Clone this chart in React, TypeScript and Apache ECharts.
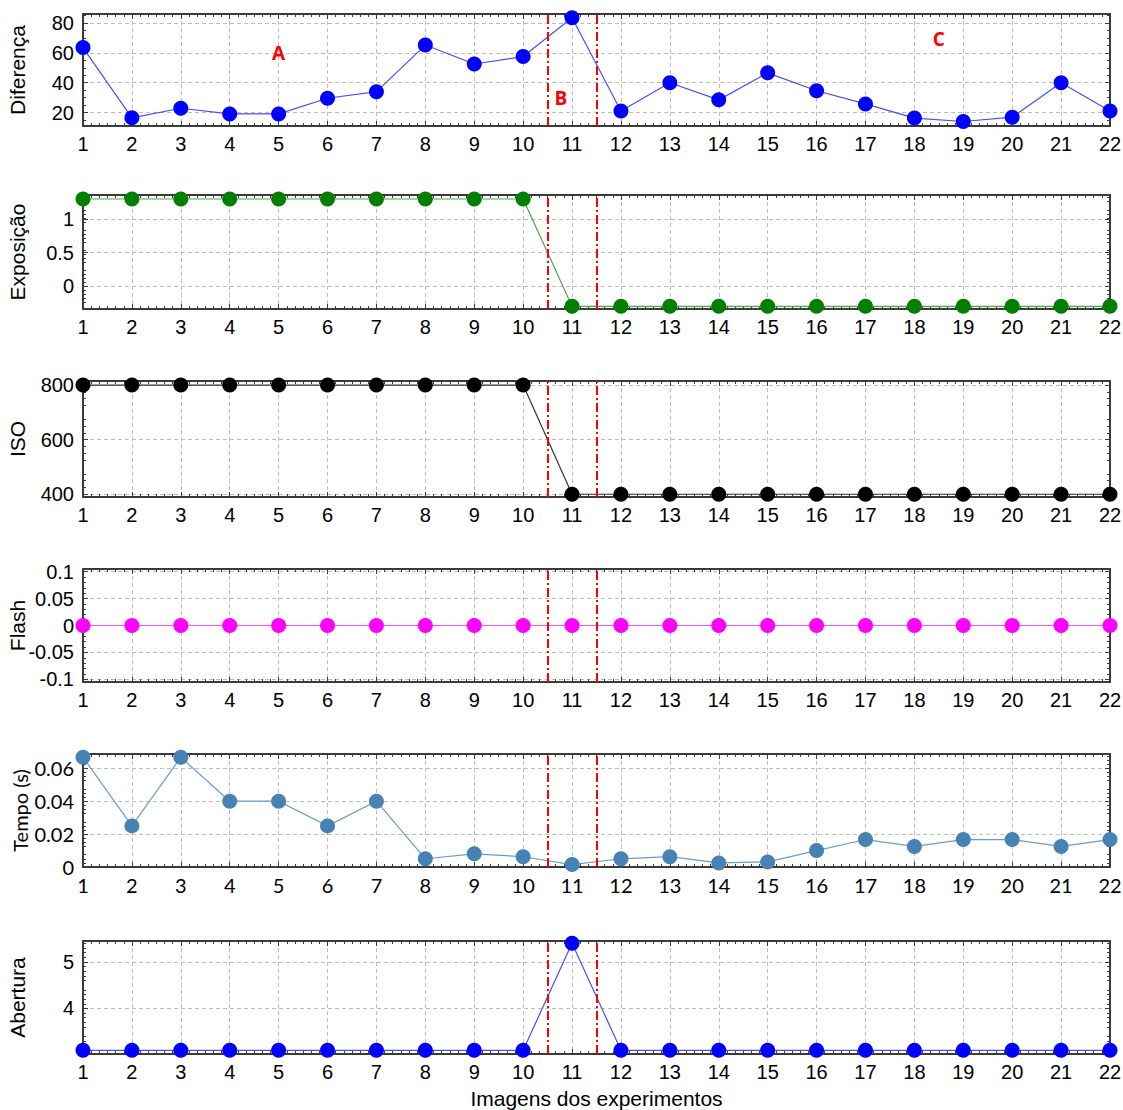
import React, { useEffect, useRef } from "react";
import * as echarts from "echarts";

// ---------- data ----------
const images = [1, 2, 3, 4, 5, 6, 7, 8, 9, 10, 11, 12, 13, 14, 15, 16, 17, 18, 19, 20, 21, 22];
const diferenca = [63.5, 16.5, 22.9, 19.1, 19.1, 29.6, 34, 65.2, 52.5, 57.5, 83.5, 21, 40, 28.5, 46.6, 34.6, 25.8, 16.3, 14, 16.9, 40, 21];
const exposicao = [1.3, 1.3, 1.3, 1.3, 1.3, 1.3, 1.3, 1.3, 1.3, 1.3, -0.3, -0.3, -0.3, -0.3, -0.3, -0.3, -0.3, -0.3, -0.3, -0.3, -0.3, -0.3];
const iso = [800, 800, 800, 800, 800, 800, 800, 800, 800, 800, 400, 400, 400, 400, 400, 400, 400, 400, 400, 400, 400, 400];
const flash = [0, 0, 0, 0, 0, 0, 0, 0, 0, 0, 0, 0, 0, 0, 0, 0, 0, 0, 0, 0, 0, 0];
const tempo = [0.0667, 0.025, 0.0667, 0.04, 0.04, 0.025, 0.04, 0.005, 0.008, 0.00625, 0.0015, 0.005, 0.00625, 0.0025, 0.0031, 0.01, 0.0167, 0.0125, 0.0167, 0.0167, 0.0125, 0.0167];
const abertura = [3.1, 3.1, 3.1, 3.1, 3.1, 3.1, 3.1, 3.1, 3.1, 3.1, 5.4, 3.1, 3.1, 3.1, 3.1, 3.1, 3.1, 3.1, 3.1, 3.1, 3.1, 3.1];

const boundaries = [10.5, 11.5];
const regionNames = ["A", "B", "C"];
const regionX = [5, 10.77, 18.5];
const regionY = [60, 30, 69];

const difTicks = [20, 40, 60, 80];
const expTicks = [0, 0.5, 1];
const isoTicks = [400, 600, 800];
const flashTicks = [-0.1, -0.05, 0, 0.05, 0.1];
const tempoTicks = [0, 0.02, 0.04, 0.06];
const aberturaTicks = [4, 5];

const yNames = ["Diferença", "Exposição", "ISO", "Flash", "Tempo (s)", "Abertura"];
const xTitle = "Imagens dos experimentos";

// ---------- layout / style ----------
const panels = [
  { values: diferenca, ticks: difTicks, min: 11, max: 86, top: 14, height: 112, color: "#0000ff", line: "#4b4bff", font: "Liberation Sans", minorY: 4 },
  { values: exposicao, ticks: expTicks, min: -0.34, max: 1.36, top: 195, height: 114, color: "#007f00", line: "#4aa84a", font: "Liberation Sans", minorY: 5 },
  { values: iso, ticks: isoTicks, min: 390, max: 815, top: 381, height: 116, color: "#000000", line: "#333333", font: "Liberation Sans", minorY: 4 },
  { values: flash, ticks: flashTicks, min: -0.105, max: 0.105, top: 569, height: 113, color: "#ff00ff", line: "#ff4dff", font: "Liberation Sans", minorY: 5 },
  { values: tempo, ticks: tempoTicks, min: 0, max: 0.0687, top: 754, height: 113, color: "#4682b4", line: "#6a9ccb", font: "Lato", minorY: 4 },
  { values: abertura, ticks: aberturaTicks, min: 3.02, max: 5.45, top: 941, height: 113, color: "#0000ff", line: "#4b4bff", font: "Liberation Sans", minorY: 5 },
];

const FRAME = "#3a3a3a";
const GRIDC = "#bdbdbd";

export default function App() {
  const ref = useRef<HTMLDivElement>(null);

  useEffect(() => {
    document.body.style.margin = "0";
    if (!ref.current) return;
    const chart = echarts.init(ref.current, undefined, { renderer: "svg" });

    const grids: any[] = [];
    const xAxes: any[] = [];
    const yAxes: any[] = [];
    const series: any[] = [];

    panels.forEach((p, i) => {
      grids.push({ left: 83, right: 13, top: p.top, height: p.height, containLabel: false, outerBoundsMode: "none" });
      const isTempo = i === 4;
      const labelFont = { fontFamily: p.font, fontSize: 20, color: "#000" };
      const baseX = {
        type: "value",
        gridIndex: i,
        min: 1,
        max: 22,
        interval: 1,
        axisLine: { show: true, onZero: false, lineStyle: { color: FRAME, width: 2 } },
        axisTick: { show: true, inside: true, length: 5, lineStyle: { color: FRAME, width: 1 } },
        minorTick: { show: true, splitNumber: 6, length: 3, lineStyle: { color: FRAME, width: 1 } },
      };
      xAxes.push({
        ...baseX,
        position: "bottom",
        axisLabel: { ...labelFont, margin: 8 },
        splitLine: { show: true, lineStyle: { color: GRIDC, type: [4, 3], width: 1 } },
        name: i === 5 ? xTitle : "",
        nameLocation: "middle",
        nameGap: 34,
        nameMoveOverlap: false,
        nameTextStyle: { fontFamily: "Liberation Sans", fontSize: 21, color: "#000" },
      });
      xAxes.push({
        ...baseX,
        position: "top",
        axisLabel: { show: false },
        splitLine: { show: false },
      });
      const baseY = {
        type: "value",
        gridIndex: i,
        min: p.min,
        max: p.max,
        axisLine: { show: true, onZero: false, lineStyle: { color: FRAME, width: 2 } },
        axisTick: { show: true, inside: true, length: 5, customValues: p.ticks, lineStyle: { color: FRAME, width: 1 } },
        minorTick: { show: true, splitNumber: p.minorY, length: 3, lineStyle: { color: FRAME, width: 1 } },
      };
      yAxes.push({
        ...baseY,
        position: "left",
        axisLabel: { ...labelFont, margin: 9, customValues: p.ticks, showMinLabel: true, showMaxLabel: true },
        splitLine: { show: true, lineStyle: { color: GRIDC, type: [4, 3], width: 1 } },
        name: yNames[i],
        nameLocation: "middle",
        nameGap: isTempo ? 53 : 55,
        nameMoveOverlap: false,
        nameTextStyle: { fontFamily: p.font, fontSize: isTempo ? 20 : 21, color: "#000" },
      });
      yAxes.push({
        ...baseY,
        position: "right",
        axisLabel: { show: false },
        splitLine: { show: false },
      });

      const s: any = {
        type: "line",
        xAxisIndex: 2 * i,
        yAxisIndex: 2 * i,
        data: images.map((x, k) => [x, p.values[k]]),
        symbol: "circle",
        symbolSize: 15,
        showSymbol: true,
        itemStyle: { color: p.color },
        lineStyle: { color: p.line, width: 1.2 },
        z: 3,
        markLine: {
          silent: true,
          symbol: "none",
          label: { show: false },
          lineStyle: { color: "#ff0000", width: 2, type: [9, 3, 2, 3] },
          data: boundaries.map((b) => ({ xAxis: b })),
          z: 5,
        },
      };
      if (i === 0) {
        s.markPoint = {
          symbol: "circle",
          symbolSize: 1,
          itemStyle: { color: "rgba(0,0,0,0)" },
          label: {
            show: true,
            position: "inside",
            formatter: "{b}",
            color: "#ff0000",
            fontFamily: "Open Sans",
            fontWeight: "bold",
            fontSize: 19,
          },
          data: regionNames.map((n, k) => ({ name: n, coord: [regionX[k], regionY[k]] })),
        };
      }
      series.push(s);
    });

    chart.setOption({
      animation: false,
      backgroundColor: "#ffffff",
      grid: grids,
      xAxis: xAxes,
      yAxis: yAxes,
      series,
    });

    return () => chart.dispose();
  }, []);

  return <div ref={ref} style={{ width: 1123, height: 1110 }} />;
}
